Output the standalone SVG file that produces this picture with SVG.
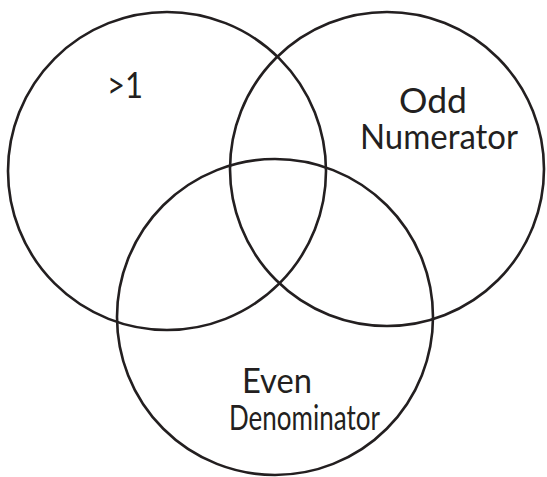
<svg xmlns="http://www.w3.org/2000/svg" width="547" height="477" viewBox="0 0 547 477">
  <style>
    .set { fill: none; stroke: #231f20; stroke-width: 2.6; }
    .lbl { font-family: Lato, "Open Sans", "Liberation Sans", sans-serif; font-size: 34px; fill: #231f20; }
  </style>
  <rect width="547" height="477" fill="#ffffff"/>
  <g id="set-greater-than-one">
    <circle class="set" cx="167" cy="171" r="159"/>
    <text class="lbl" x="107" y="98" style="font-size:36px" textLength="36" lengthAdjust="spacingAndGlyphs">&gt;1</text>
  </g>
  <g id="set-odd-numerator">
    <circle class="set" cx="387" cy="169" r="157"/>
    <text class="lbl" x="399" y="113" textLength="68" lengthAdjust="spacingAndGlyphs">Odd</text>
    <text class="lbl" x="360" y="149" textLength="158" lengthAdjust="spacingAndGlyphs">Numerator</text>
  </g>
  <g id="set-even-denominator">
    <circle class="set" cx="275" cy="317" r="158"/>
    <text class="lbl" x="242" y="393" textLength="70" lengthAdjust="spacingAndGlyphs">Even</text>
    <text class="lbl" x="229" y="430" textLength="151" lengthAdjust="spacingAndGlyphs">Denominator</text>
  </g>
  <g id="connectors"/>
</svg>
